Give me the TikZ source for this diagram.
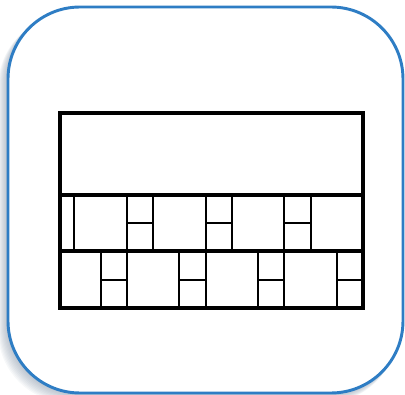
\documentclass[tikz,border=0pt]{standalone}
\usepackage{tikz}
\usetikzlibrary{calc}
\definecolor{frameblue}{RGB}{46,125,196}
\definecolor{shadowgray}{RGB}{110,128,150}
\begin{document}
\begin{tikzpicture}[x=0.75pt,y=-0.75pt,line join=miter]
  \useasboundingbox (0,0) rectangle (405,395);
  % soft shadow towards the lower left
  \foreach \i in {1,...,10}
    \fill[shadowgray,opacity=0.06,rounded corners=54pt]
      (8-\i,7+0.8*\i) rectangle (403-0.6*\i,393+\i);
  \filldraw[fill=white,draw=frameblue,line width=2.2pt,rounded corners=54pt]
    (8,7) rectangle (403,393);
  \coordinate (NW) at (60,113);
  \coordinate (SE) at (363,308);
  % courses
  \draw[line width=2.3pt] (60,195) -- (363,195);
  \draw[line width=2.3pt] (60,251) -- (363,251);
  \foreach \x in {74,127,153,206,232,284,311}
    \draw[line width=2.2pt] (\x,195) -- (\x,251);
  \foreach \x in {127,206,284}
    \draw[line width=2.2pt] (\x,223) -- (\x+26.5,223);
  \foreach \x in {101,127,179,206,258,284,337}
    \draw[line width=2.2pt] (\x,251) -- (\x,308);
  \foreach \x in {101,179,258,337}
    \draw[line width=2.2pt] (\x,280) -- (\x+26.5,280);
  \draw[line width=2.4pt] (NW) rectangle (SE);
\end{tikzpicture}
\end{document}
